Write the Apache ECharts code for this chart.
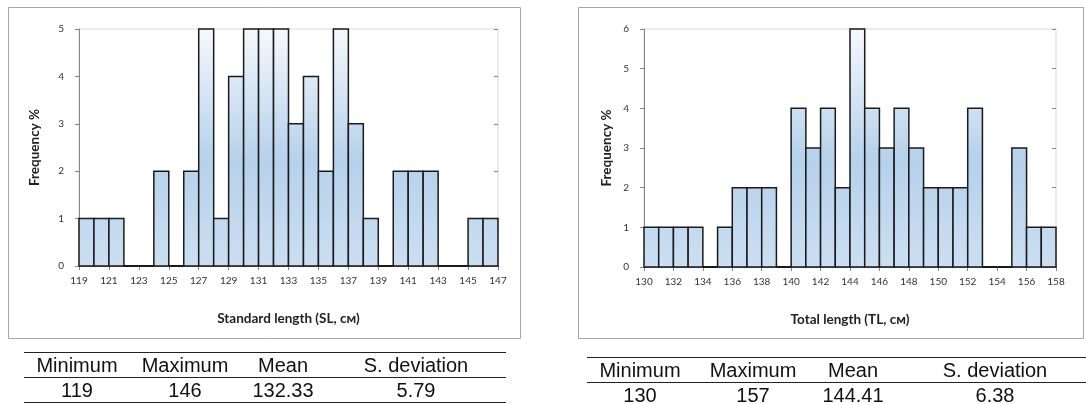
<!DOCTYPE html>
<html>
<head>
<meta charset="utf-8">
<script src="https://cdn.jsdelivr.net/npm/echarts@6/dist/echarts.min.js"></script>
<style>
  html, body { margin: 0; padding: 0; background: #fff; }
  #wrap { position: relative; width: 1086px; height: 404px; overflow: hidden; }
  #chart { position: absolute; left: 0; top: 0; width: 1086px; height: 404px; }
  table.stats {
    position: absolute; border-collapse: collapse;
    font-family: 'Liberation Sans', Arial, sans-serif; font-size: 20px; color: #111;
  }
  table.stats th, table.stats td {
    font-weight: normal; text-align: center; padding: 0; height: 24px; line-height: 24px;
  }
  table.stats th { border-top: 1.5px solid #222; border-bottom: 1.5px solid #222; }
  table.stats td { border-bottom: 1.5px solid #222; }
</style>
</head>
<body>
<div id="wrap">
  <div id="chart"></div>
  <table class="stats" id="tSL" style="left:24px; top:352px; width:482px;"></table>
  <table class="stats" id="tTL" style="left:587px; top:357px; width:510px;"></table>
</div>
<script>
// bin edges (tick labels) and frequencies
const edgesSL = ['119','120','121','122','123','124','125','126','127','128','129','130','131','132','133',
  '134','135','136','137','138','139','140','141','142','143','144','145','146','147'];
const freqSL = [1, 1, 1, 0, 0, 2, 0, 2, 5, 1, 4, 5, 5, 5, 3, 4, 2, 5, 3, 1, 0, 2, 2, 2, 0, 0, 1, 1];

const edgesTL = ['130','131','132','133','134','135','136','137','138','139','140','141','142','143','144',
  '145','146','147','148','149','150','151','152','153','154','155','156','157','158'];
const freqTL = [1, 1, 1, 1, 0, 1, 2, 2, 2, 0, 4, 3, 4, 2, 6, 4, 3, 4, 3, 2, 2, 2, 4, 0, 0, 3, 1, 1];

const statsHead = ['Minimum', 'Maximum', 'Mean', 'S. deviation'];
const statsSL = ['119', '146', '132.33', '5.79'];
const statsTL = ['130', '157', '144.41', '6.38'];

function fillTable(id, head, vals, widths) {
  let html = '<colgroup>' + widths.map(w => '<col style="width:' + w + 'px">').join('') + '</colgroup>';
  html += '<tr>' + head.map(h => '<th>' + h + '</th>').join('') + '</tr>';
  html += '<tr>' + vals.map(v => '<td>' + v + '</td>').join('') + '</tr>';
  document.getElementById(id).innerHTML = html;
}
fillTable('tSL', statsHead, statsSL, [106, 110, 86, 180]);
fillTable('tTL', statsHead, statsTL, [106, 120, 80, 204]);

let chart = echarts.init(document.getElementById('chart'));

function barRenderer(yMax) {
  return function (params, api) {
    let i = api.value(0);
    let v = api.value(1);
    let p0 = api.coord([i, 0]);
    let p1 = api.coord([i + 1, v]);
    if (!(v > 0)) {
      // empty bin: only the black edge along the baseline
      return {
        type: 'rect',
        shape: { x: p0[0], y: p0[1] - 1, width: p1[0] - p0[0], height: 2 },
        style: { fill: '#1a1a1a' },
        z2: 10
      };
    }
    let yTop = api.coord([0, yMax])[1];
    let fill = new echarts.graphic.LinearGradient(0, yTop, 0, p0[1], [
      { offset: 0, color: '#f5f9fd' },
      { offset: 0.55, color: '#b6d1eb' },
      { offset: 1, color: '#cbdff2' }
    ], true);
    return {
      type: 'rect',
      shape: { x: p0[0], y: p1[1], width: p1[0] - p0[0], height: p0[1] - p1[1] },
      style: { fill: fill, stroke: '#1a1a1a', lineWidth: 1.5 }
    };
  };
}

let labelFont = { fontFamily: 'Lato', fontSize: 10, color: '#333' };
let titleFont = { fontFamily: 'Lato', fontSize: 13.5, fontWeight: 'bold', color: '#222' };

function xAx(grid, edges, title) {
  return {
    type: 'category', gridIndex: grid, data: edges, boundaryGap: false,
    axisLine: { lineStyle: { color: '#868686' } },
    axisTick: { interval: 1, length: 4, lineStyle: { color: '#868686' } },
    axisLabel: Object.assign({ interval: 1, margin: 10 }, labelFont),
    name: title, nameLocation: 'middle', nameGap: 46, nameTextStyle: titleFont
  };
}
function yAx(grid, max, gap) {
  return {
    type: 'value', gridIndex: grid, min: 0, max: max, interval: 1,
    splitLine: { show: false },
    axisLine: { show: true, lineStyle: { color: '#868686' } },
    axisTick: { show: true, length: 4, lineStyle: { color: '#868686' } },
    axisLabel: Object.assign({ margin: 15 }, labelFont),
    name: 'Frequency %', nameLocation: 'middle', nameGap: gap, nameTextStyle: titleFont
  };
}
// second y axis for the inner half of the cross ticks
function yTickIn(grid, max) {
  return {
    type: 'value', gridIndex: grid, min: 0, max: max, interval: 1,
    splitLine: { show: false }, axisLine: { show: false }, axisLabel: { show: false },
    axisTick: { show: true, inside: true, length: 4, lineStyle: { color: '#868686' } }
  };
}

let option = {
  animation: false,
  graphic: [
    { type: 'rect', shape: { x: 8.5, y: 7.5, width: 512, height: 331 },
      style: { fill: 'none', stroke: '#a6a6a6', lineWidth: 1 }, z: -1 },
    { type: 'rect', shape: { x: 578.5, y: 7.5, width: 505, height: 331 },
      style: { fill: 'none', stroke: '#a6a6a6', lineWidth: 1 }, z: -1 }
  ],
  grid: [
    { left: 79, top: 29, width: 419, height: 237, show: true, borderColor: '#d9d9d9', borderWidth: 1 },
    { left: 644, top: 29, width: 412, height: 238, show: true, borderColor: '#d9d9d9', borderWidth: 1 }
  ],
  xAxis: [xAx(0, edgesSL, 'Standard length (SL, см)'), xAx(1, edgesTL, 'Total length (TL, см)')],
  yAxis: [yAx(0, 5, 37), yAx(1, 6, 30), yTickIn(0, 5), yTickIn(1, 6)],
  series: [
    { type: 'custom', xAxisIndex: 0, yAxisIndex: 0, renderItem: barRenderer(5), z: 10, clip: false,
      encode: { x: 0, y: 1 }, data: freqSL.map((v, i) => [i, v]) },
    { type: 'custom', xAxisIndex: 1, yAxisIndex: 1, renderItem: barRenderer(6), z: 10, clip: false,
      encode: { x: 0, y: 1 }, data: freqTL.map((v, i) => [i, v]) }
  ]
};

option && chart.setOption(option);
</script>
</body>
</html>
